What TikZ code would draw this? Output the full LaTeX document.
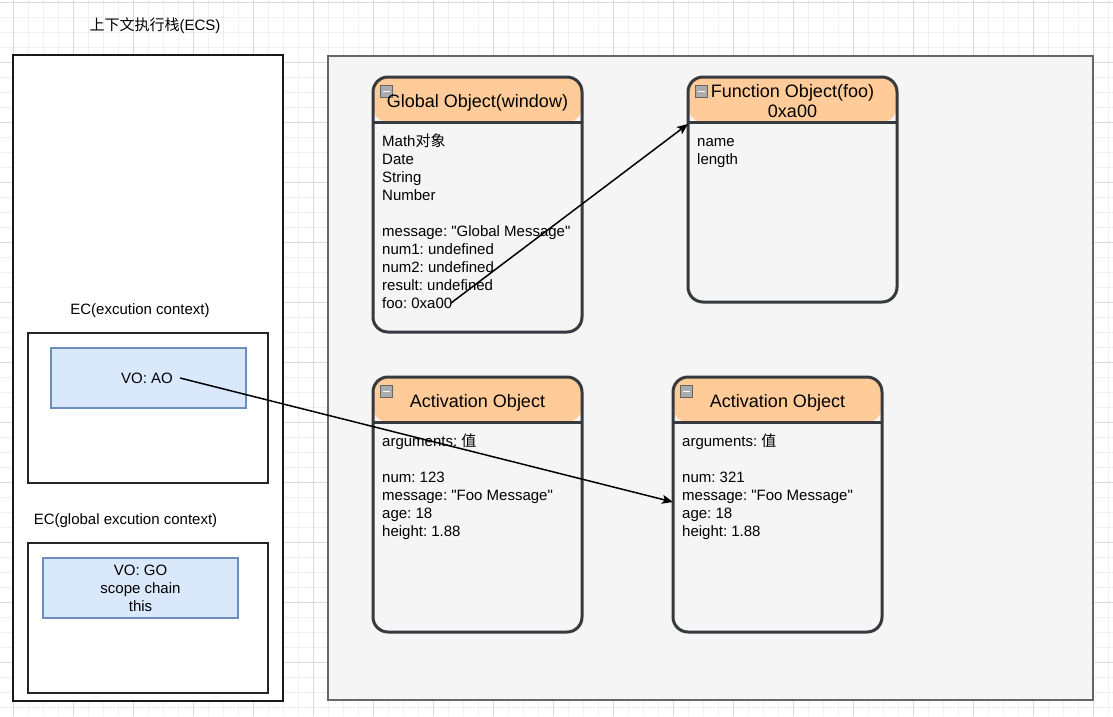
\documentclass[tikz,border=0pt]{standalone}
\usepackage{fontspec}
\setmainfont{Liberation Sans}
\newfontfamily\cjk{Noto Sans CJK SC}
\usetikzlibrary{arrows.meta}
\frenchspacing

\definecolor{headfill}{HTML}{FFCC99}
\definecolor{bodyfill}{HTML}{F5F5F5}
\definecolor{boxedge}{HTML}{36393D}
\definecolor{panelfill}{HTML}{F5F5F5}
\definecolor{paneledge}{HTML}{666666}
\definecolor{vofill}{HTML}{DAE8FC}
\definecolor{voedge}{HTML}{6C8EBF}
\definecolor{gridminor}{HTML}{F0F0F0}
\definecolor{gridmajor}{HTML}{D9D9D9}

\tikzset{
  ecsbox/.style={draw=black!90, line width=2pt, fill=white, outer sep=0},
  ecbox/.style={draw=black!85, line width=1.5pt, fill=white, outer sep=0},
  panel/.style={draw=paneledge, line width=2pt, fill=panelfill, outer sep=0},
  vobox/.style={draw=voedge, line width=1.5pt, fill=vofill, outer sep=0, align=center,
    font=\fontsize{15}{18}\selectfont},
  objbox/.style={draw=boxedge, line width=3pt, fill=bodyfill, rounded corners=15pt,
    minimum width=209pt, outer sep=0,
    path picture={
      \fill[headfill] (path picture bounding box.north west)
        rectangle ([yshift=-45pt]path picture bounding box.north east);
      \draw[boxedge, line width=3pt] ([yshift=-45pt]path picture bounding box.north west)
        -- ([yshift=-45pt]path picture bounding box.north east);}},
  objtitle/.style={font=\fontsize{18}{20}\selectfont, align=center, inner sep=0},
  objtext/.style={font=\fontsize{15}{18}\selectfont, align=left, anchor=north west, inner sep=0},
  captext/.style={font=\fontsize{15}{18}\selectfont, inner sep=0},
  foldicon/.style={draw=gray!80!black, fill=gray!65, minimum size=12pt, inner sep=0, outer sep=0,
    path picture={\draw[white, line width=1.8pt]
      ([xshift=2.5pt]path picture bounding box.west) -- ([xshift=-2.5pt]path picture bounding box.east);}},
  ptr/.style={line width=1.5pt, -{Stealth[length=11pt, width=9pt, inset=2.5pt]}}
}

\begin{document}
\begin{tikzpicture}[x=1pt, y=-1pt]
  \useasboundingbox (0,0) rectangle (1113,716);
  \fill[white] (0,0) rectangle (1113,716);

  % grid
  \foreach \gx in {-2,13,...,1112} \draw[gridminor, line width=1pt] (\gx,0) -- (\gx,716);
  \foreach \gy in {2,17,...,716} \draw[gridminor, line width=1pt] (0,\gy) -- (1113,\gy);
  \foreach \gx in {13,73,...,1112} \draw[gridmajor, line width=1pt] (\gx,0) -- (\gx,716);
  \foreach \gy in {2,62,...,716} \draw[gridmajor, line width=1pt] (0,\gy) -- (1113,\gy);

  % execution context stack
  \node[captext] (ecs-title) at (155,26) {{\cjk 上下文执行栈}(ECS)};
  \node[ecsbox, minimum width=270pt, minimum height=646pt] (ecs) at (148,378) {};

  \node[captext] (ec-title) at (140,311) {EC(excution context)};
  \node[ecbox, minimum width=240pt, minimum height=150pt] (ec) at (148,408) {};
  \node[vobox, minimum width=195pt, minimum height=60pt] (vo-ao) at (148.5,378) {};
  \node[captext] (vo-ao-text) at (147,378) {VO: AO};
  \coordinate (ao-ptr) at (180,378);

  \node[captext] (gec-title) at (125.5,521) {EC(global excution context)};
  \node[ecbox, minimum width=240pt, minimum height=150pt] (gec) at (148,618) {};
  \node[vobox, minimum width=195pt, minimum height=60pt] (vo-go) at (140.5,588) {VO: GO\\scope chain\\this};

  % heap
  \node[panel, minimum width=765pt, minimum height=644pt] (heap) at (710.5,378) {};

  \node[objbox, minimum height=255pt] (go) at (477.5,204.5) {};
  \node[foldicon] (go-fold) at ([xshift=13.5pt,yshift=-14.5pt]go.north west) {};
  \node[objtitle] (go-title) at ([yshift=-26pt]go.north) {Global Object(window)};
  \node[objtext] (go-text) at ([xshift=9pt,yshift=-56.5pt]go.north west)
    {\strut Math\smash{\cjk 对象}\\Date\\String\\Number\\[18pt]message: \textquotedbl Global Message\textquotedbl\\num1: undefined\\num2: undefined\\result: undefined\\foo: 0xa00};
  \coordinate (foo-ptr) at (451,303);

  \node[objbox, minimum height=225pt] (fo) at (792.5,189.5) {};
  \node[foldicon] (fo-fold) at ([xshift=13.5pt,yshift=-14.5pt]fo.north west) {};
  \node[objtitle] (fo-title) at ([yshift=-24pt]fo.north) {Function Object(foo)\\0xa00};
  \node[objtext] (fo-text) at ([xshift=9pt,yshift=-56.5pt]fo.north west) {\strut name\\length};

  \node[objbox, minimum height=255pt] (ao1) at (477.5,504.5) {};
  \node[foldicon] (ao1-fold) at ([xshift=13.5pt,yshift=-14.5pt]ao1.north west) {};
  \node[objtitle] (ao1-title) at ([yshift=-26pt]ao1.north) {Activation Object};
  \node[objtext] (ao1-text) at ([xshift=9pt,yshift=-56.5pt]ao1.north west)
    {\strut arguments: \smash{\cjk 值}\\[18pt]num: 123\\message: \textquotedbl Foo Message\textquotedbl\\age: 18\\height: 1.88};

  \node[objbox, minimum height=255pt] (ao2) at (777.5,504.5) {};
  \node[foldicon] (ao2-fold) at ([xshift=13.5pt,yshift=-14.5pt]ao2.north west) {};
  \node[objtitle] (ao2-title) at ([yshift=-26pt]ao2.north) {Activation Object};
  \node[objtext] (ao2-text) at ([xshift=9pt,yshift=-56.5pt]ao2.north west)
    {\strut arguments: \smash{\cjk 值}\\[18pt]num: 321\\message: \textquotedbl Foo Message\textquotedbl\\age: 18\\height: 1.88};

  % pointers
  \draw[ptr] (foo-ptr) -- ([yshift=-47pt]fo.north west);
  \draw[ptr] (ao-ptr) -- ([yshift=-125pt]ao2.north west);
\end{tikzpicture}
\end{document}
